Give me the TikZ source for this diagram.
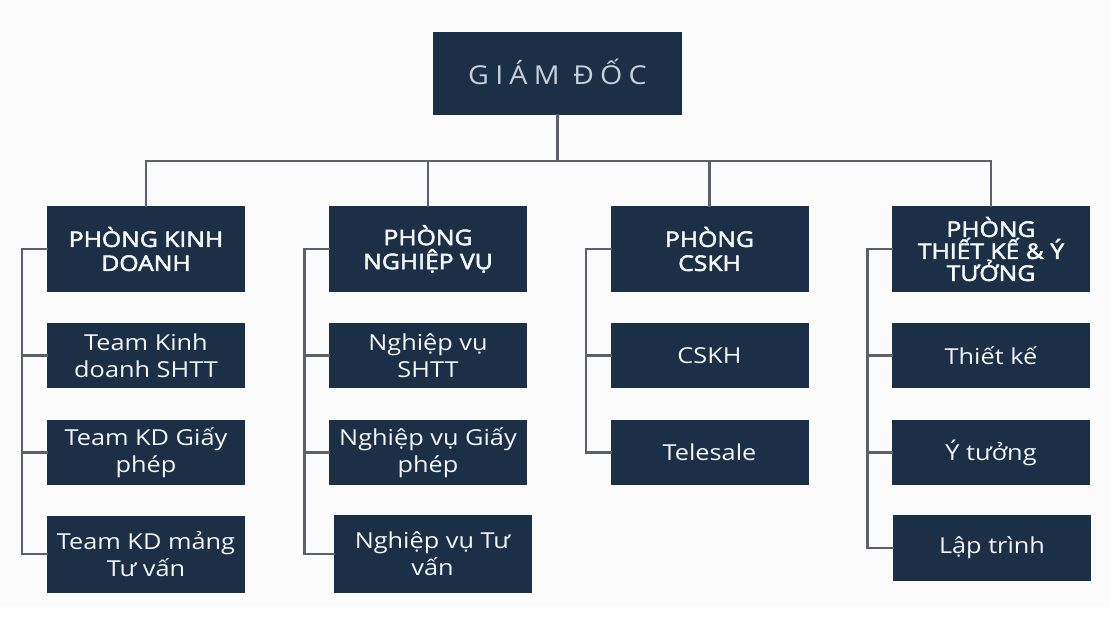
\documentclass[tikz,border=0pt]{standalone}
\usepackage{fontspec}
\setmainfont{Open Sans}[FakeStretch=1.15]
\newfontfamily\titlefont[LetterSpace=24,FakeStretch=1.1]{Open Sans}
\newfontfamily\headfont[FakeStretch=1.15,FakeBold=2.6]{Open Sans}
\definecolor{boxfill}{HTML}{1B2F47}
\definecolor{linecol}{HTML}{5B6069}
\definecolor{txtcol}{HTML}{F4F6F8}
\definecolor{titlecol}{HTML}{C9CFD7}
\definecolor{paper}{HTML}{FBFBFB}
\tikzset{
  box/.style={fill=boxfill, draw=none, inner sep=0pt, text=txtcol, align=center, font=\fontsize{22}{27}\selectfont},
  headbox/.style={box, minimum width=198pt, minimum height=86pt, font=\fontsize{21.5}{24}\selectfont\headfont},
  childbox/.style={box, minimum width=198pt, minimum height=65pt},
  conn/.style={draw=linecol, line width=2.4pt, line cap=rect},
}
\begin{document}
\begin{tikzpicture}[x=1pt,y=-1pt]
\useasboundingbox (0,0) rectangle (1112,638);
\fill[white] (0,0) rectangle (1112,638);
\fill[paper] (0,0) rectangle (1110,607);
% top
\node[box, minimum width=249pt, minimum height=83pt, text=titlecol, font=\fontsize{26}{30}\selectfont\titlefont] (gd) at (557.5,73.5) {\raisebox{3pt}{GIÁM ĐỐC}};
% heads
\node[headbox] (h1) at (146,249) {PHÒNG KINH\\DOANH};
\node[headbox] (h2) at (428,249) {PHÒNG\\NGHIỆP VỤ};
\node[headbox] (h3) at (709.5,249) {PHÒNG\\CSKH};
\node[headbox, font=\fontsize{21.5}{22}\selectfont\headfont] (h4) at (991,249) {PHÒNG\\THIẾT KẾ \& Ý\\TƯỞNG};
% column 1
\node[childbox] (c11) at (146,355.5) {Team Kinh\\doanh SHTT};
\node[childbox] (c12) at (146,452.5) {Team KD Giấy\\phép};
\node[childbox, minimum height=77pt] (c13) at (146,554) {Team KD mảng\\Tư vấn};
% column 2
\node[childbox] (c21) at (428,355.5) {Nghiệp vụ\\SHTT};
\node[childbox] (c22) at (428,452.5) {Nghiệp vụ Giấy\\phép};
\node[childbox, minimum height=78pt] (c23) at (432.5,554) {Nghiệp vụ Tư\\vấn};
% column 3
\node[childbox] (c31) at (709.5,355.5) {CSKH};
\node[childbox] (c32) at (709.5,452.5) {Telesale};
% column 4
\node[childbox] (c41) at (991,355.5) {Thiết kế};
\node[childbox] (c42) at (991,452.5) {Ý tưởng};
\node[childbox, minimum height=66pt] (c43) at (992,548) {Lập trình};
% top bus
\coordinate (bus) at (557,161);
\foreach \h in {h1,h2,h3,h4}
  \draw[conn] (gd.south) -- (gd.south |- bus) -| (\h.north);
% side buses
\coordinate (s1) at (22,0);
\coordinate (s2) at (304.5,0);
\coordinate (s3) at (586,0);
\coordinate (s4) at (867.5,0);
\draw[conn] (h1.west) -- (h1.west -| s1) |- (c13.west);
\draw[conn] (c11.west) -- (c11.west -| s1);
\draw[conn] (c12.west) -- (c12.west -| s1);
\draw[conn] (h2.west) -- (h2.west -| s2) |- (c23.west);
\draw[conn] (c21.west) -- (c21.west -| s2);
\draw[conn] (c22.west) -- (c22.west -| s2);
\draw[conn] (h3.west) -- (h3.west -| s3) |- (c32.west);
\draw[conn] (c31.west) -- (c31.west -| s3);
\draw[conn] (h4.west) -- (h4.west -| s4) |- (c43.west);
\draw[conn] (c41.west) -- (c41.west -| s4);
\draw[conn] (c42.west) -- (c42.west -| s4);
\end{tikzpicture}
\end{document}
